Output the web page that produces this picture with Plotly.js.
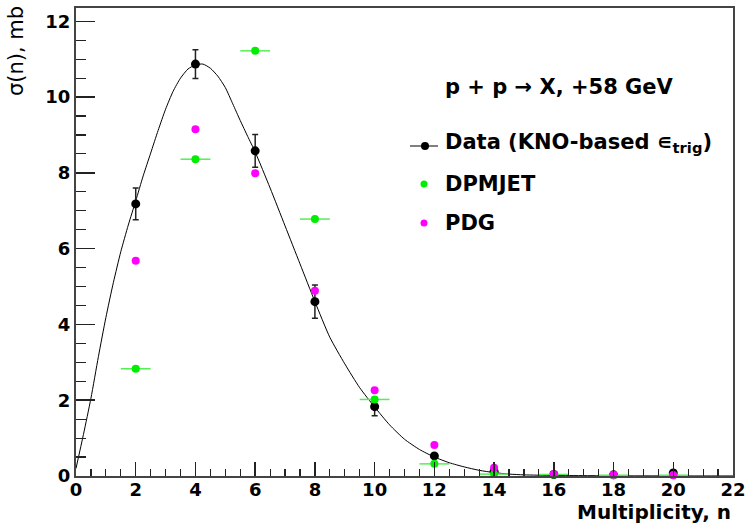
<!DOCTYPE html>
<html>
<head>
<meta charset="utf-8">
<script src="https://cdn.plot.ly/plotly-3.0.1.min.js"></script>
<style>
  html, body { margin: 0; padding: 0; background: #fff; }
  #chart { width: 748px; height: 523px; }
</style>
</head>
<body>
<div id="chart"></div>
<script>
// Charged multiplicity distribution, p + p -> X at +58 GeV
const multiplicity = [2, 4, 6, 8, 10, 12, 14, 16, 18, 20];

// measured cross sections (mb) with statistical errors
const dataSigma = [7.18, 10.87, 8.58, 4.60, 1.83, 0.53, 0.12, 0.04, 0.03, 0.08];
const dataErr   = [0.42, 0.38, 0.43, 0.44, 0.24, 0.05, 0.02, 0.01, 0.01, 0.01];

// DPMJET prediction (bin half-width 0.5)
const dpmjetSigma = [2.83, 8.36, 11.22, 6.78, 2.02, 0.32, 0.05, 0.04, 0.02, 0.02];
const dpmjetHalfWidth = 0.5;

// PDG compilation
const pdgSigma = [5.68, 9.15, 7.99, 4.89, 2.26, 0.82, 0.22, 0.05, 0.03, 0.02];

// KNO fit curve, sampled
const fitN = [0, 0.25, 0.5, 0.75, 1.0, 1.25, 1.5, 1.75, 2.0, 2.25, 2.5, 2.75, 3.0, 3.25, 3.5, 3.75,
              4.0, 4.25, 4.5, 4.75, 5.0, 5.25, 5.5, 5.75, 6.0, 6.5, 7.0, 7.5, 8.0, 8.5, 9.0, 9.5,
              10.0, 10.5, 11.0, 11.5, 12.0, 12.5, 13.0, 13.5, 14.0, 14.5, 15.0, 16.0, 18.0, 20.0, 22.0];
const fitSigma = [0.2, 1.1, 2.05, 3.15, 4.18, 5.1, 5.92, 6.62, 7.26, 7.92, 8.52, 9.12, 9.68, 10.15, 10.5, 10.74,
                  10.85, 10.87, 10.76, 10.55, 10.25, 9.82, 9.38, 8.96, 8.55, 7.6, 6.6, 5.6, 4.6, 3.66, 2.96, 2.33,
                  1.82, 1.35, 0.97, 0.70, 0.50, 0.35, 0.24, 0.15, 0.09, 0.05, 0.03, 0.015, 0.005, 0.002, 0.001];

const FONT = "DejaVu Sans";

// plot-area geometry in pixels, used to place the legend block
const L = 76, R = 733, T = 8, B = 476;
const px = v => (v - L) / (R - L);
const py = v => (B - v) / (B - T);

const traces = [
  {
    x: fitN, y: fitSigma, mode: 'lines', type: 'scatter',
    line: { color: '#000', width: 1, shape: 'spline', smoothing: 0.6 },
    hoverinfo: 'skip', showlegend: false
  },
  {
    x: multiplicity, y: dataSigma, mode: 'markers', type: 'scatter',
    name: 'Data',
    marker: { color: '#000', size: 9 },
    error_y: { type: 'data', array: dataErr, visible: true, color: '#222', thickness: 1.5, width: 3 },
    cliponaxis: false, showlegend: false
  },
  {
    x: multiplicity, y: dpmjetSigma, mode: 'markers', type: 'scatter',
    name: 'DPMJET',
    marker: { color: '#00ee00', size: 8 },
    error_x: { type: 'constant', value: dpmjetHalfWidth, visible: true, color: '#55ee55', thickness: 1.5, width: 0 },
    cliponaxis: false, showlegend: false
  },
  {
    x: multiplicity, y: pdgSigma, mode: 'markers', type: 'scatter',
    name: 'PDG',
    marker: { color: '#ff00ff', size: 8 },
    cliponaxis: false, showlegend: false
  }
];

const tickFont = { family: FONT, size: 18, weight: 'bold', color: '#000' };
const legendFont = { family: FONT, size: 21, weight: 'bold', color: '#000' };

const layout = {
  width: 748, height: 523,
  margin: { l: L, r: 748 - R, t: T, b: 523 - B, pad: 0 },
  paper_bgcolor: '#fff', plot_bgcolor: '#fff',
  showlegend: false,
  xaxis: {
    range: [0, 22], tick0: 0, dtick: 2,
    ticks: 'inside', ticklen: 14, tickwidth: 1.5, tickcolor: '#222',
    minor: { ticks: 'inside', ticklen: 7, dtick: 0.5, tickwidth: 1.2, tickcolor: '#222' },
    showgrid: false, zeroline: false,
    showline: true, linecolor: '#444', linewidth: 2, mirror: true,
    tickfont: tickFont, ticklabelstandoff: -4
  },
  yaxis: {
    range: [0, 12.35], tick0: 0, dtick: 2,
    ticks: 'inside', ticklen: 19, tickwidth: 1.5, tickcolor: '#222',
    minor: { ticks: 'inside', ticklen: 10, dtick: 0.5, tickwidth: 1.2, tickcolor: '#222' },
    showgrid: false, zeroline: false,
    showline: true, linecolor: '#444', linewidth: 2, mirror: true,
    tickfont: tickFont
  },
  annotations: [
    { text: 'Multiplicity, n', xref: 'paper', yref: 'paper', x: 1, y: py(512),
      xanchor: 'right', yanchor: 'middle', showarrow: false,
      font: { family: FONT, size: 20, weight: 'bold', color: '#000' } },
    { text: 'σ(n), mb', xref: 'paper', yref: 'paper', x: px(16), y: py(4),
      xanchor: 'center', yanchor: 'top', textangle: -90, showarrow: false,
      font: { family: FONT, size: 21, color: '#000' } },
    { text: 'p + p → X, +58 GeV', xref: 'paper', yref: 'paper', x: px(443), y: py(87),
      xanchor: 'left', yanchor: 'middle', showarrow: false, font: legendFont },
    { text: 'Data (KNO-based ∊<sub>trig</sub>)', xref: 'paper', yref: 'paper', x: px(443), y: py(143),
      xanchor: 'left', yanchor: 'middle', showarrow: false, font: legendFont },
    { text: 'DPMJET', xref: 'paper', yref: 'paper', x: px(443), y: py(184),
      xanchor: 'left', yanchor: 'middle', showarrow: false, font: legendFont },
    { text: 'PDG', xref: 'paper', yref: 'paper', x: px(443), y: py(223),
      xanchor: 'left', yanchor: 'middle', showarrow: false, font: legendFont }
  ],
  shapes: [
    // legend swatches
    { type: 'line', xref: 'paper', yref: 'paper', x0: px(410), x1: px(438), y0: py(146), y1: py(146),
      line: { color: '#000', width: 1 } },
    { type: 'circle', xref: 'paper', yref: 'paper', xsizemode: 'pixel', ysizemode: 'pixel',
      xanchor: px(425), yanchor: py(146), x0: -4, x1: 4, y0: -4, y1: 4,
      fillcolor: '#000', line: { width: 0 } },
    { type: 'circle', xref: 'paper', yref: 'paper', xsizemode: 'pixel', ysizemode: 'pixel',
      xanchor: px(424), yanchor: py(184), x0: -3.5, x1: 3.5, y0: -3.5, y1: 3.5,
      fillcolor: '#00ee00', line: { width: 0 } },
    { type: 'circle', xref: 'paper', yref: 'paper', xsizemode: 'pixel', ysizemode: 'pixel',
      xanchor: px(424), yanchor: py(223), x0: -3.5, x1: 3.5, y0: -3.5, y1: 3.5,
      fillcolor: '#ff00ff', line: { width: 0 } }
  ]
};

Plotly.newPlot('chart', traces, layout, { staticPlot: true, displayModeBar: false });
</script>
</body>
</html>
